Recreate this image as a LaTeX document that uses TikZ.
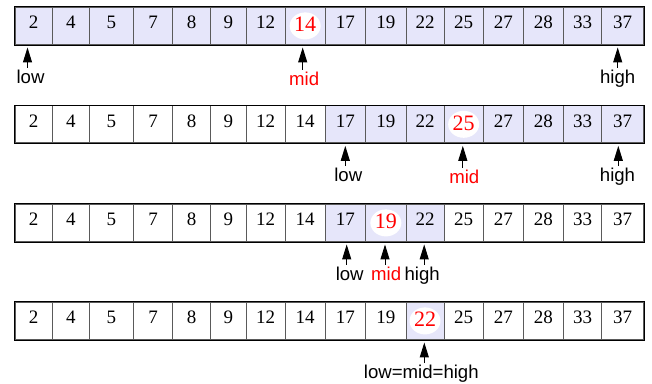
\documentclass[tikz,border=0pt]{standalone}
\usepackage{fontspec}
\setmainfont{Liberation Serif}
\setsansfont{Liberation Sans}
\usetikzlibrary{arrows.meta}
\definecolor{shade}{RGB}{230,230,250}
\definecolor{gridc}{RGB}{90,90,90}
\tikzset{
 cell/.style={draw=gridc, line width=0.9pt, inner sep=0pt, minimum height=37.2pt},
 num/.style={font=\fontsize{19}{19}\selectfont, anchor=base, inner sep=0pt},
 rednum/.style={font=\fontsize{22}{22}\selectfont, text=red, anchor=base, inner sep=0pt},
 lbl/.style={font=\sffamily\fontsize{18.6}{18.6}\selectfont, anchor=base, inner sep=0pt},
 midlbl/.style={lbl, text=red},
 arr/.style={line width=1pt, -{Triangle[length=15pt,width=9pt]}, shorten >=2.5pt},
}
\def\xb{{15,52.3,89.3,133.3,172.7,210.7,246,285.3,325,365.7,406,444,483.3,523.3,563.5,601.5,643.5}}
\def\vals{{2,4,5,7,8,9,12,14,17,19,22,25,27,28,33,37}}
\newcommand\arrayrow[5]{%
 \foreach \i in {1,...,16} {
  \pgfmathsetmacro\xl{\xb[\i-1]}
  \pgfmathsetmacro\xr{\xb[\i]}
  \pgfmathtruncatemacro\v{\vals[\i-1]}
  \pgfmathsetmacro\w{\xr-\xl}
  \pgfmathsetmacro\xc{(\xl+\xr)/2}
  \ifnum\i<#3 \def\cf{white}\else\ifnum\i>#4 \def\cf{white}\else\def\cf{shade}\fi\fi
  \node[cell, fill=\cf, minimum width=\w pt] (#1c\i) at (\xc, #2+18.6) {};
  \ifnum\i=#5
    \fill[white] (#1c\i.center) ellipse [x radius=15.5pt, y radius=13.5pt];
    \node[rednum] (#1n\i) at (\xc, #2+24.5) {\v};
  \else
    \node[num] (#1n\i) at (\xc, #2+21.3) {\v};
  \fi
 }
 \draw[line width=0.9pt] (#1c1.north west) rectangle (#1c16.south east);
}
\newcommand\pointer[3]{%
 \coordinate (#1t) at ([xshift=#3pt,yshift=15.5pt]#1.base);
 \draw[arr] (#1t) -- (#1t |- #2.south);
}
\begin{document}
\begin{tikzpicture}[x=1pt,y=-1pt]
\useasboundingbox (0,0) rectangle (652,383);
\arrayrow{ra}{7.3}{1}{16}{8}
\arrayrow{rb}{105.7}{9}{16}{12}
\arrayrow{rc}{204.3}{9}{11}{10}
\arrayrow{rd}{302.3}{11}{11}{11}

\node[lbl] (lo1) at (30.5,83.3) {low};
\node[midlbl] (mi1) at (304.2,85) {mid};
\node[lbl] (hi1) at (617.7,83.3) {high};
\pointer{lo1}{rac1}{-3}
\pointer{mi1}{rac8}{-1.5}
\pointer{hi1}{rac16}{0}

\node[lbl] (lo2) at (348.3,181.7) {low};
\node[midlbl] (mi2) at (464.3,183.3) {mid};
\node[lbl] (hi2) at (617.5,181.7) {high};
\pointer{lo2}{rbc9}{-3}
\pointer{mi2}{rbc12}{-1.5}
\pointer{hi2}{rbc16}{0.8}

\node[lbl] (lo3) at (349.7,280.2) {low};
\node[midlbl] (mi3) at (386.2,280.2) {mid};
\node[lbl] (hi3) at (422.2,280.2) {high};
\pointer{lo3}{rcc9}{-3}
\pointer{mi3}{rcc10}{-1.2}
\pointer{hi3}{rcc11}{2}

\node[lbl] (lm4) at (421.3,378.7) {low=mid=high};
\pointer{lm4}{rdc11}{3}
\end{tikzpicture}
\end{document}
